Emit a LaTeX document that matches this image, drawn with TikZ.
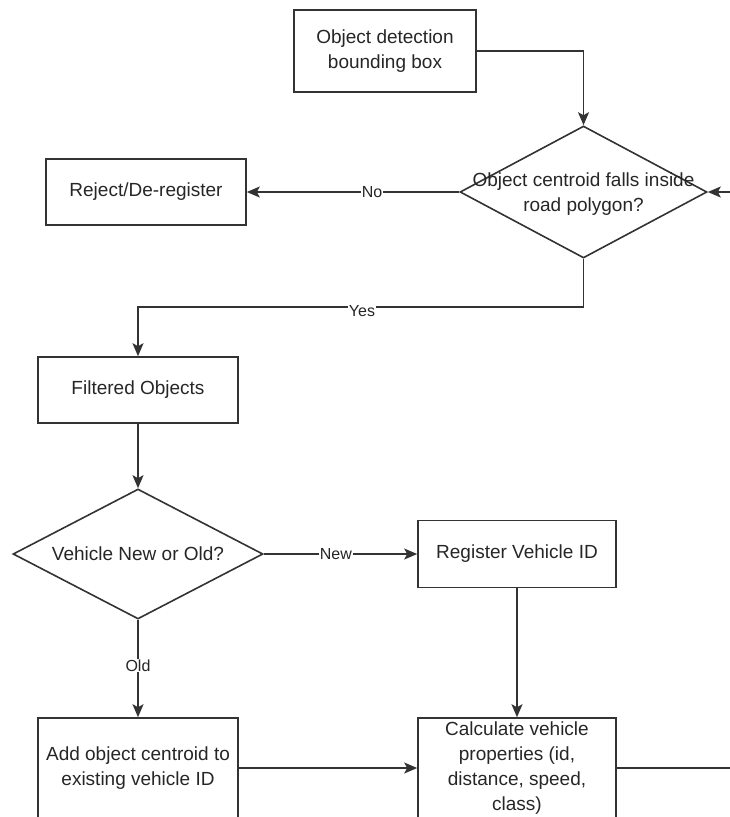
\documentclass[tikz,border=0pt]{standalone}
\usepackage{fontspec}
\setmainfont{Liberation Sans}
\usetikzlibrary{arrows.meta,shapes.geometric}
\begin{document}
\begin{tikzpicture}[x=1pt,y=-1pt,
  every node/.style={font=\fontsize{19}{25}\selectfont, text=black!85},
  box/.style={draw=black!80, line width=1.6pt, rectangle, inner sep=0pt, align=center},
  dia/.style={draw=black!80, line width=1.6pt, diamond, inner sep=0pt, aspect=1.9},
  lbl/.style={font=\fontsize{16}{19}\selectfont, fill=white, inner sep=1pt},
  conn/.style={draw=black!80, line width=1.6pt, -{Stealth[length=13pt,width=11pt,inset=3pt]}},
  plain/.style={draw=black!80, line width=1.6pt}]
\useasboundingbox (0,0) rectangle (730,817);

\node[box, minimum width=182, minimum height=82] (det) at (385,51) {Object detection\\bounding box};
\node[dia, minimum width=247, minimum height=132] (d1) at (583.5,192) {};
\node[align=center] (d1t) at (583.5,194) {Object centroid falls inside\\road polygon?};
\node[box, minimum width=200, minimum height=66] (rej) at (146,192) {Reject/De-register};
\node[box, minimum width=200, minimum height=66] (filt) at (138,390) {Filtered Objects};
\node[dia, minimum width=250, minimum height=130] (d2) at (138,554) {};
\node (d2t) at (138,554) {Vehicle New or Old?};
\node[box, minimum width=198, minimum height=67] (reg) at (517,554) {Register Vehicle ID};
\node[box, minimum width=200, minimum height=100] (add) at (138,768) {Add object centroid to\\existing vehicle ID};
\node[box, minimum width=198, minimum height=100] (calc) at (517,768) {Calculate vehicle\\properties (id,\\distance, speed,\\class)};

\coordinate (in1) at (740,192);
\coordinate (out1) at (740,768);
\coordinate (ybend) at (583.5,307);

\draw[conn] (det.east) -| (d1.north);
\draw[conn] (in1) -- (d1.east);
\draw[conn] (d1.west) -- node[lbl, pos=0.41] {No} (rej.east);
\draw[conn] (d1.south) -- (ybend) -| (filt.north);
\node[lbl] (yes) at (362,311) {Yes};
\draw[conn] (filt.south) -- (d2.north);
\draw[conn] (d2.east) -- node[lbl, pos=0.47] {New} (reg.west);
\draw[conn] (d2.south) -- node[lbl, pos=0.47] {Old} (add.north);
\draw[conn] (reg.south) -- (calc.north);
\draw[conn] (add.east) -- (calc.west);
\draw[plain] (calc.east) -- (out1);
\end{tikzpicture}
\end{document}
